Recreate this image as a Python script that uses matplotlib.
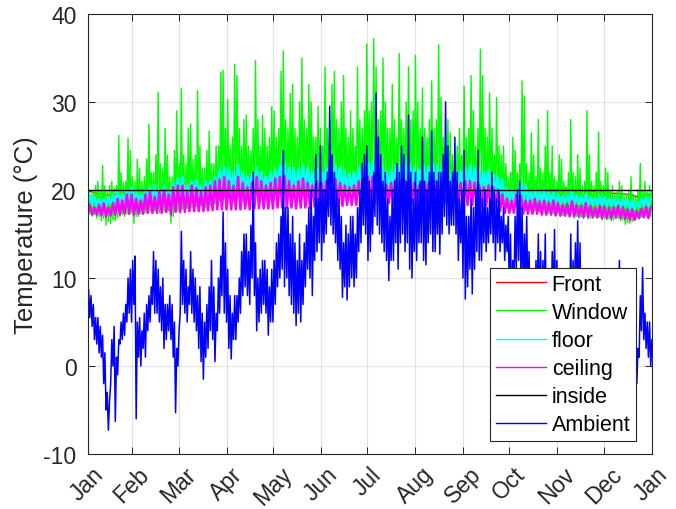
import numpy as np
import matplotlib
matplotlib.use("Agg")
import matplotlib.pyplot as plt

plt.rcParams['font.family'] = ['Liberation Sans', 'DejaVu Sans']
plt.rcParams['axes.unicode_minus'] = False

# ---- Ambient and Window: 1.5-day blocks (244), low / high
# one row per month (20 blocks = 30 days), last row has 24 blocks

amb_lo = [6.5, 5.5, 4.5, 3, 2.5, 1.5, 1, -2, -5, -7.3, -2, 0, -6.3, -1, 2.5, 3, 3.5, 5, 6, 5,
          7, -6, 1, 0, 2, 1, 4, 5, 7, 6, 6, 5, 4, 2, 3, 4, 3, 1, -5.3, 0,
          6, 7, 6, 5, 7, 6, 5, 4, 2, 0.5, -1.5, 1, 2, 4, 3, 0.5, 4, 6, 8, 6,
          5, 2, 0.8, 3, 3, 5, 6, 8, 9, 8, 7, 10, 8, 4, 5, 6, 7, 6, 3.5, 5,
          5, 7, 9, 10, 11, 9, 10, 8, 7, 6, 4.6, 6, 5, 7, 9, 11, 10, 8, 12, 13,
          14, 12, 14, 15, 17, 16, 15, 14, 12, 11, 7.8, 9, 7.5, 9, 10, 9, 10, 13, 14, 16,
          15, 12, 13, 15, 17, 16, 15, 14, 13, 12, 9.7, 12, 12, 14, 11, 14, 15, 13, 14, 11,
          10, 13, 12, 14, 14, 12, 11.5, 14, 15, 13, 13, 15, 12.7, 15, 17, 16, 15, 16, 16, 15,
          12, 14, 10, 7.6, 9, 11, 8.2, 11, 13, 12, 12, 14, 13, 14, 15, 14, 12, 14, 13, 14,
          12, 13, 8, 6, 9, 11, 12, 10, 8, 10, 7, 5, 3, 6, 7, 6, 4, 7, 4, 2,
          5, 7, 5, 3, 0, 3, 2, 4, 6, 5, 6, 8, 5, 3, 2, 4, 1, 0, -2, 1,
          2, 4, 5, 4, 3, 5, 2, 1, 5, 7, 4, 2, 0, 2, 0, -2, -5.2, -2, 1, 4, 3, 2, 1, 0]
amb_hi = [8.7, 8, 7, 5.5, 5.5, 4.5, 3.5, 1.5, -3, -4, 3, 4.5, 1, 3, 5, 6, 7, 10, 11, 12,
          12.5, 5, 5.5, 4, 6, 7, 8, 9, 13, 12, 11, 9, 10, 7, 7, 8, 7, 5, 2, 4,
          15.3, 12, 11, 9, 13, 11, 10, 8, 9, 6, 5, 7, 9, 12, 9, 6, 10, 12.5, 17.5, 14,
          11, 8, 6, 8, 8, 10, 13, 15, 15, 13, 16, 22, 14, 10, 11, 12, 12, 11, 9, 11,
          12, 14, 15, 17, 24.5, 18, 18, 15, 17, 14, 12, 15, 12, 14, 16, 18, 20, 17, 24, 19,
          25, 20, 20, 22, 29.5, 24, 22, 20, 19, 17, 14, 16, 15, 17, 17, 15, 18, 20, 23, 24,
          25, 21, 20, 22, 31, 26, 24, 21, 22, 19, 17, 20, 21, 23, 22, 25, 24, 21, 28.5, 22,
          19, 22, 20, 21, 26, 21, 20, 22, 26.7, 22, 21, 22, 22, 24, 30, 25, 21, 22, 26, 22,
          19, 20, 24.5, 17, 17, 19, 18, 20, 24.5, 20, 19, 20, 18, 19, 22, 20, 19, 20, 17, 18,
          16, 17, 15, 12, 17, 20, 21, 18, 15, 17, 13, 11, 10, 12, 15, 13, 12, 15, 10, 8,
          13, 15.5, 12, 10, 7, 9, 9, 10, 15, 12, 14, 16.5, 14, 11, 9, 11, 8, 6, 5, 7,
          8, 9, 11, 9, 9, 10, 8, 6, 10, 12, 9, 7, 6, 7, 5, 3, 0, 2, 8, 11.2, 6, 5, 5, 3]

win_lo = [17.5, 17.3, 17, 17.2, 16.8, 17, 16.5, 16.8, 16, 16.4, 16.2, 16.6, 16.5, 16.8, 17, 17.2, 17, 17.3, 17.2, 17.4,
          16.2, 17, 17, 17.3, 17.2, 17.4, 17.4, 17.5, 17.5, 17.6, 17.5, 17.4, 17.3, 17.5, 17.5, 17.6, 16.2, 17, 17.5, 17.6,
          17.6, 17.8, 17.8, 17.9, 17.8, 18, 18, 18.1, 18, 18.2, 17.8, 18, 18, 18.2, 18.2, 18.4, 18.5, 18.7, 18.8, 19,
          19, 19.2, 19.2, 19.3, 19, 19.2, 19.3, 19.5, 19.2, 19.4, 19.4, 19.5, 19.3, 19.5, 19.5, 19.6, 19.4, 19.5, 19.5, 19.6,
          19.5, 19.6, 19.6, 19.7, 19.5, 19.7, 19.7, 19.8, 19.6, 19.7, 19.5, 19.6, 19.7, 19.8, 19.8, 19.9, 19.6, 19.7, 19.7, 19.8,
          19.8, 19.9, 19.7, 19.8, 19.9, 20, 19.8, 19.9, 19.7, 19.8, 19.6, 19.7, 19.5, 19.6, 19.7, 19.8, 19.8, 19.9, 19.9, 20,
          20, 20.1, 19.9, 20, 19.8, 19.9, 19.9, 20, 19.7, 19.8, 19.6, 19.7, 19.8, 19.9, 19.9, 20, 19.8, 19.9, 19.7, 19.8,
          19.6, 19.7, 19.7, 19.8, 19.8, 19.9, 19.7, 19.8, 19.9, 20, 19.8, 19.9, 19.7, 19.8, 19.6, 19.7, 19.5, 19.6, 19.6, 19.7,
          19.5, 19.6, 19.4, 19.5, 19.5, 19.6, 19.4, 19.5, 19.3, 19.4, 19.3, 19.4, 19.2, 19.3, 19, 19.1, 18.8, 18.9, 18.5, 18.6,
          18, 18.2, 17.8, 17.9, 18, 18.1, 17.8, 17.9, 17.6, 17.7, 17.5, 17.6, 17.5, 17.6, 17.4, 17.5, 17.3, 17.4, 17.3, 17.4,
          17.2, 17.3, 17.2, 17.3, 17, 17.1, 17, 17.2, 17.1, 17.2, 16.8, 17, 16.8, 16.9, 16.8, 17, 16.7, 16.8, 16.8, 16.9,
          16.8, 16.9, 16.6, 16.8, 16.6, 16.7, 16.5, 16.6, 16.7, 16.8, 16.5, 16.6, 16.1, 16.3, 16.2, 16.4, 16.6, 16.7, 16.8, 16.9, 16.9, 17, 16.9, 17]
win_hi = [20, 19.5, 19.8, 20.5, 21, 20, 22.8, 20.5, 19.8, 20.5, 21, 20.2, 20.5, 26.2, 22, 20.8, 21, 25.9, 24.5, 21.5,
          21, 23.5, 22.5, 21, 21.5, 23.5, 27.5, 22, 22, 24, 31.1, 23, 22.5, 27, 24, 21.5, 21.5, 24.5, 29, 23,
          31.5, 24, 23, 27, 27.5, 23.5, 24, 31.3, 25, 22.5, 22.5, 24.5, 26.7, 23, 23, 25, 25, 33.4, 33.6, 27,
          30.3, 25, 26, 34.3, 33, 27, 25, 28, 28.5, 25, 24.5, 27, 34.7, 28, 25, 28.5, 27, 25, 26, 29.5,
          29, 26, 27, 33.5, 35.8, 28, 27, 31, 32, 27, 26, 30, 35, 28, 27, 32, 30, 26, 26, 29.5,
          27, 25, 34, 27, 28, 32, 33.5, 28, 27, 30, 33, 27, 26, 29, 27, 25, 34, 28, 27, 29,
          36.6, 29, 30, 37.2, 34, 28, 29, 35, 30, 27, 27, 32, 28, 26, 35.5, 28, 27, 30, 34, 28,
          29, 35.3, 30, 27, 31.6, 27, 26, 28, 32.4, 27, 28, 36.5, 30.5, 26, 25, 28, 26.5, 24, 23.5, 25,
          27, 24, 31.8, 26, 27, 33, 29, 25, 27, 36, 33, 27, 26, 31, 27, 24, 30.5, 25, 24, 25,
          23, 21.5, 22, 26, 24.5, 22, 23, 32.4, 30.7, 23, 22, 26.5, 24, 21.5, 28, 22.5, 22, 25, 29, 22,
          25, 21.5, 21, 24, 23.5, 21, 20.5, 22, 28, 22, 21.5, 24, 22.5, 20.5, 21, 29, 24, 21, 20.5, 22,
          26.6, 21, 20.5, 22.5, 22, 20, 20.5, 19.5, 19.8, 21, 20.5, 19.5, 19.5, 20, 21.5, 19.5, 19.2, 20, 23, 20, 21, 19.8, 20.5, 19.8]

# ---- floor and ceiling: 3-day blocks (122), one row per month (10 blocks)
floor_lo = [18.4, 18.3, 18.2, 18.2, 18.2, 18.4, 18.5, 18.5, 18.6, 18.7,
            18.6, 18.7, 18.8, 18.8, 18.9, 18.9, 19, 19, 19, 19.1,
            19.2, 19.2, 19.3, 19.3, 19.3, 19.4, 19.5, 19.6, 19.8, 20,
            20, 20.1, 20, 20.2, 20.1, 20.2, 20.3, 20.2, 20.1, 20.2,
            20.3, 20.4, 20.5, 20.3, 20.3, 20.2, 20.4, 20.3, 20.2, 20.3,
            20.2, 20.3, 20.5, 20.4, 20.3, 20.2, 20.1, 20.2, 20.3, 20.4,
            20.5, 20.5, 20.4, 20.3, 20.2, 20.3, 20.4, 20.3, 20.4, 20.5,
            20.3, 20.2, 20.4, 20.3, 20.5, 20.4, 20.2, 20.1, 20, 20.1,
            20.2, 20.3, 20.4, 20.3, 20.2, 20.1, 20.2, 20, 19.8, 19.5,
            19, 18.8, 18.8, 18.9, 18.8, 18.7, 18.7, 18.7, 18.6, 18.6,
            18.6, 18.5, 18.5, 18.5, 18.5, 18.4, 18.4, 18.4, 18.3, 18.3,
            18.3, 18.3, 18.2, 18.2, 18.2, 18.1, 18.1, 17.9, 17.8, 18.1, 18.2, 18.1]
floor_hi = [19.5, 19.2, 19, 19, 19.2, 19.4, 19.8, 19.5, 20, 20.3,
            19.8, 19.5, 20, 20.3, 20.5, 20, 20.5, 20, 20.8, 21.3,
            21.5, 20.5, 21, 21.2, 20.5, 21, 21, 21.5, 22.3, 22.6,
            22.5, 22, 22.8, 22, 21.5, 21.8, 22.5, 22, 21.5, 22,
            22.3, 22.8, 23, 22.5, 22.5, 22.3, 22.8, 22.5, 22, 22.3,
            22, 22.5, 23, 22.8, 22.5, 22.2, 21.8, 22, 22.5, 22.8,
            23, 23.2, 22.8, 22.5, 22, 22.3, 22.8, 22.5, 22.8, 23,
            22.5, 22.3, 22.8, 22.6, 23, 22.8, 22.3, 22, 21.8, 22,
            22.3, 22.5, 22.8, 22.5, 22.3, 22, 22.3, 21.8, 21.5, 21.2,
            20.2, 20, 19.8, 20.8, 20.5, 19.8, 20, 19.8, 20, 19.6,
            19.7, 19.5, 19.3, 19.5, 19.8, 19.4, 19.3, 19.5, 19.2, 19.1,
            19.3, 19.2, 19, 19, 19, 18.9, 18.9, 18.8, 18.6, 19, 19.2, 19]

ceil_lo = [17.3, 17.2, 17.2, 17.1, 17, 17.1, 17.2, 17.2, 17.3, 17.3,
           17.2, 17.3, 17.3, 17.4, 17.4, 17.4, 17.4, 17.5, 17.2, 17.5,
           17.5, 17.5, 17.6, 17.6, 17.6, 17.6, 17.7, 17.7, 17.8, 17.8,
           17.8, 17.8, 17.8, 17.8, 17.9, 17.8, 17.9, 17.9, 17.9, 17.9,
           17.9, 18, 18, 18, 18, 17.9, 18, 18, 18, 18.1,
           18.1, 18.1, 18.2, 18.2, 18.2, 18.2, 18.3, 18.3, 18.3, 18.4,
           18.4, 18.4, 18.5, 18.5, 18.5, 18.5, 18.5, 18.5, 18.6, 18.6,
           18.6, 18.6, 18.6, 18.5, 18.5, 18.5, 18.5, 18.5, 18.4, 18.4,
           18.4, 18.3, 18.3, 18.3, 18.3, 18.2, 18.2, 18.2, 18, 17.6,
           17.4, 17.4, 17.4, 17.4, 17.3, 17.3, 17.3, 17.3, 17.2, 17.2,
           17.2, 17.1, 17.1, 17.1, 17, 17, 17, 16.9, 16.9, 16.9,
           16.9, 16.8, 16.8, 16.8, 16.9, 16.8, 16.7, 16.6, 16.6, 16.8, 16.9, 16.8]
ceil_hi = [18.3, 18, 18.3, 18.5, 18, 18.5, 19, 18.8, 19.5, 19.5,
           19, 18.8, 19.5, 19.8, 19.2, 19.8, 20, 19.5, 20.3, 20.5,
           20.5, 19.8, 20.5, 20.2, 19.8, 20.3, 20.5, 21, 21.2, 21.5,
           21, 20.5, 21.5, 20.8, 20.3, 20.8, 21.5, 21, 20.5, 20.8,
           21.3, 21.5, 21.6, 21, 20.5, 21, 21.3, 20.8, 20.5, 21,
           20.8, 21, 21.5, 21.2, 20.8, 20.5, 20.3, 20.5, 21, 21.2,
           21.5, 21.5, 21, 20.8, 20.5, 20.8, 21.2, 20.8, 21, 21.3,
           20.8, 20.5, 21, 20.8, 21.2, 21, 20.8, 20.5, 20.3, 20.5,
           20.8, 21, 21, 20.8, 20.5, 20.3, 20.5, 20.3, 20, 19.5,
           19, 18.8, 19.5, 19.3, 18.8, 18.8, 19, 18.7, 18.8, 18.6,
           18.8, 18.5, 18.3, 18.4, 18.7, 18.3, 18.2, 18.5, 18.2, 18,
           18.2, 18.1, 18, 18, 18.2, 18, 17.8, 17.8, 17.6, 17.9, 18.1, 18]

# Front sensor, weekly readings (day of year)
front_days = [0, 7, 14, 21, 28, 35, 42, 49, 56, 63, 70, 77, 84, 91, 98, 105, 112,
              119, 126, 133, 140, 147, 154, 161, 168, 175, 182, 189, 196, 203,
              210, 217, 224, 231, 238, 245, 252, 259, 266, 269, 273, 280, 287,
              294, 301, 308, 315, 322, 329, 336, 343, 350, 357, 364]
front_temp = [19.9, 19.6, 19.4, 19.6, 19.8, 19.8, 19.9, 19.8, 19.9, 19.9, 19.9,
              20, 20, 20, 20, 20, 20, 20, 20, 20, 20, 20, 20, 20, 20, 20, 20,
              20, 20, 20, 20, 20, 20, 20, 20, 20, 20, 20, 20.2, 20.9, 20.5,
              20.3, 20.2, 20.1, 20.1, 20.2, 20, 19.9, 19.8, 19.7, 19.6, 19.5,
              19.2, 19.5]

inside_days = [0, 365]
inside_temp = [20.0, 20.0]

tick_days = [0, 28.5, 59, 90, 120, 151, 181, 212, 243, 273, 304, 334, 365]
tick_labels = ['Jan', 'Feb', 'Mar', 'Apr', 'May', 'Jun', 'Jul', 'Aug', 'Sep',
               'Oct', 'Nov', 'Dec', 'Jan']


def zigzag(lo, hi, step):
    # each block: low at block start, high half way through
    n = len(lo)
    t = np.empty(2 * n)
    v = np.empty(2 * n)
    t[0::2] = step * np.arange(n)
    t[1::2] = step * np.arange(n) + step / 2
    v[0::2] = lo
    v[1::2] = hi
    return t, v


grey = (0.15, 0.15, 0.15)
fig = plt.figure(figsize=(6.76, 5.10), dpi=100)
ax = fig.add_axes([87.5 / 676, 55 / 510, 564 / 676, 440 / 510])

ax.plot(front_days, front_temp, color='#ff0000', lw=1.0, label='Front')
t, v = zigzag(win_lo, win_hi, 1.5)
ax.plot(t, v, color='#00ff00', lw=1.0, label='Window')
t, v = zigzag(floor_lo, floor_hi, 3.0)
ax.plot(t, v, color='#00ffff', lw=1.8, label='floor')
t, v = zigzag(ceil_lo, ceil_hi, 3.0)
ax.plot(t, v, color='#ff00ff', lw=1.8, label='ceiling')
ax.plot(inside_days, inside_temp, color='k', lw=1.0, label='inside')
t, v = zigzag(amb_lo, amb_hi, 1.5)
ax.plot(t, v, color='#0000ff', lw=1.1, label='Ambient')

ax.set_xlim(0, 365)
ax.set_ylim(-10, 40)
ax.set_yticks([-10, 0, 10, 20, 30, 40])
ax.set_xticks(tick_days)
ax.set_xticklabels(tick_labels, rotation=45, ha='center', va='top')
ax.tick_params(direction='in', length=5, width=0.7, colors=grey,
               labelsize=16.5, top=True, right=True)
ax.tick_params(axis='x', pad=6)
ax.tick_params(axis='y', pad=8)
ax.set_ylabel('Temperature (°C)', fontsize=18.5, color=grey, labelpad=4)
ax.grid(True, color=grey, alpha=0.13, lw=0.8)
ax.set_axisbelow(True)
for s in ax.spines.values():
    s.set_color(grey)
    s.set_linewidth(0.8)

leg = ax.legend(loc='lower right', bbox_to_anchor=(0.9725, 0.0295),
                borderaxespad=0, fontsize=15.5, frameon=True, fancybox=False,
                framealpha=1, edgecolor=grey, handlelength=2.35,
                handletextpad=0.25, labelspacing=0.33, borderpad=0.26)
leg.get_frame().set_linewidth(0.8)
for line in leg.get_lines():
    line.set_linewidth(1.0)

fig.savefig('out.png', dpi=100)
